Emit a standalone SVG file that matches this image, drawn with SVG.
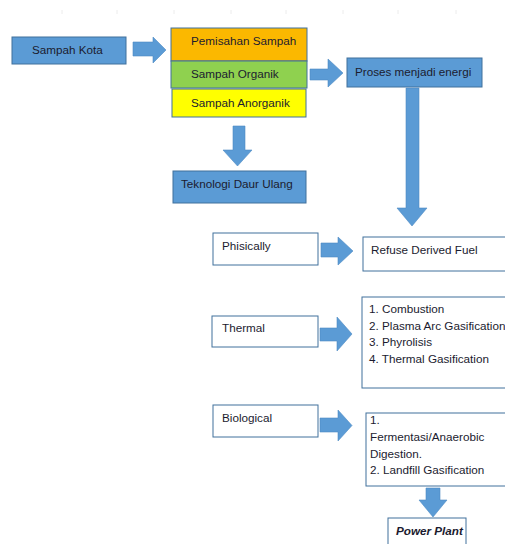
<svg xmlns="http://www.w3.org/2000/svg" width="505" height="544" viewBox="0 0 505 544">
<style>
.t{font-family:"Liberation Sans",Arial,sans-serif;font-size:11.7px;fill:#1b1b2f}
.blue{fill:#5b9bd5;stroke:#41719c;stroke-width:1}
.white{fill:#ffffff;stroke:#41719c;stroke-width:1}
.arrow{fill:#5b9bd5;stroke:#4f8cc4;stroke-width:0.6}
.tick{stroke:#ececec;stroke-width:1}
</style>
<rect width="505" height="544" fill="#ffffff"/>
<g id="ruler">
<line class="tick" x1="62" y1="10" x2="62" y2="14"/>
<line class="tick" x1="117" y1="10" x2="117" y2="14"/>
<line class="tick" x1="174" y1="10" x2="174" y2="14"/>
<line class="tick" x1="231" y1="10" x2="231" y2="14"/>
<line class="tick" x1="286" y1="10" x2="286" y2="14"/>
<line class="tick" x1="343" y1="10" x2="343" y2="14"/>
<line class="tick" x1="398" y1="10" x2="398" y2="14"/>
<line class="tick" x1="456" y1="10" x2="456" y2="14"/>
</g>
<g id="sampah-kota">
<rect class="blue" x="12" y="37" width="114" height="27"/>
<text class="t" x="32" y="54">Sampah Kota</text>
</g>
<g id="pemisahan">
<rect x="171" y="28" width="136" height="33" fill="#fbb800" stroke="#41719c"/>
<text class="t" x="191" y="45">Pemisahan Sampah</text>
</g>
<g id="organik">
<rect x="171" y="61" width="136" height="27" fill="#8fd14f" stroke="#41719c"/>
<text class="t" x="191" y="78">Sampah Organik</text>
</g>
<g id="anorganik">
<rect x="172" y="89" width="134" height="28" fill="#ffff00" stroke="#41719c"/>
<text class="t" x="191" y="107">Sampah Anorganik</text>
</g>
<g id="proses">
<rect class="blue" x="347" y="58" width="135" height="29"/>
<text class="t" x="355" y="76">Proses menjadi energi</text>
</g>
<g id="teknologi">
<rect class="blue" x="173" y="171" width="133" height="32"/>
<text class="t" x="181" y="188">Teknologi Daur Ulang</text>
</g>
<g id="phisically">
<rect class="white" x="213" y="233" width="105" height="32"/>
<text class="t" x="222" y="250">Phisically</text>
</g>
<g id="rdf">
<rect class="white" x="363" y="237" width="145" height="34"/>
<text class="t" x="371" y="254">Refuse Derived Fuel</text>
</g>
<g id="thermal">
<rect class="white" x="212" y="316" width="106" height="31"/>
<text class="t" x="222" y="332">Thermal</text>
</g>
<g id="thermal-list">
<rect class="white" x="362" y="297" width="146" height="91"/>
<text class="t" x="369" y="313">1. Combustion</text>
<text class="t" x="369" y="329.5">2. Plasma Arc Gasification</text>
<text class="t" x="369" y="346">3. Phyrolisis</text>
<text class="t" x="369" y="362.5">4. Thermal Gasification</text>
</g>
<g id="biological">
<rect class="white" x="213" y="405" width="105" height="32"/>
<text class="t" x="222" y="422">Biological</text>
</g>
<g id="bio-list">
<rect class="white" x="366" y="413" width="142" height="73"/>
<text class="t" x="370" y="424">1.</text>
<text class="t" x="370" y="441">Fermentasi/Anaerobic</text>
<text class="t" x="370" y="458">Digestion.</text>
<text class="t" x="370" y="474">2. Landfill Gasification</text>
</g>
<g id="power-plant">
<rect class="white" x="388" y="518" width="78" height="32"/>
<text class="t" x="396" y="535" font-style="italic" font-weight="bold">Power Plant</text>
</g>
<g id="connectors">
<polygon class="arrow" points="133,42 153,42 153,37 166,50 153,63 153,56 133,56"/>
<polygon class="arrow" points="310,69 328,69 328,59 343,73 328,87 328,80 310,80"/>
<polygon class="arrow" points="406,88 419,88 419,208 427,208 412,226 397,208 406,208"/>
<polygon class="arrow" points="233,126 245,126 245,150 252,150 237.5,166 223,150 233,150"/>
<polygon class="arrow" points="321,243 338,243 338,237 353,251 338,265 338,257 321,257"/>
<polygon class="arrow" points="320,328 337,328 337,317 352,334 337,351 337,341 320,341"/>
<polygon class="arrow" points="320,418 338,418 338,410 352,425.5 338,441 338,432 320,432"/>
<polygon class="arrow" points="426,488 440,488 440,500 447,500 433,517 419,500 426,500"/>
</g>
</svg>
